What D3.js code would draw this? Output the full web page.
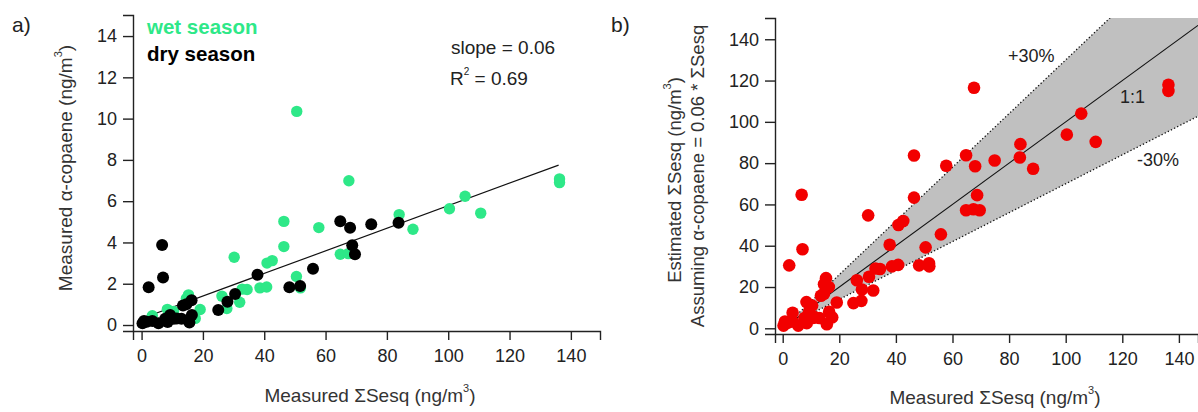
<!DOCTYPE html>
<html>
<head>
<meta charset="utf-8">
<script src="https://cdn.jsdelivr.net/npm/d3@7"></script>
<style>
  body { margin: 0; background: #fff; }
  svg { font-family: "Liberation Sans", Arial, sans-serif; }
  .axis path, .axis line { stroke: #222; stroke-width: 1.4; }
  .axis text { fill: #222; font-size: 18px; }
</style>
</head>
<body>
<script>
// panel a: measured sum of sesquiterpenes vs measured alpha-copaene (ng/m3)
const wetSeason = [[3.5,0.45],[8.4,0.76],[10.4,0.66],[14.6,1.28],[15.3,1.46],[17.5,0.32],[19.1,0.75],
  [26.2,1.4],[27.8,0.8],[30.2,3.28],[32.0,1.1],[32.8,1.74],[34.4,1.72],[38.6,1.8],[40.8,1.84],[40.9,3.0],
  [42.6,3.12],[46.4,5.02],[46.4,3.8],[50.6,10.35],[50.5,2.35],[51.8,1.8],[57.8,4.72],[64.8,3.43],
  [67.4,3.46],[67.6,6.99],[84.0,5.35],[88.5,4.64],[100.4,5.63],[105.5,6.24],[110.6,5.42],[136.3,7.08],[136.3,6.9]];
const drySeason = [[0.3,0.08],[0.8,0.2],[1.7,0.16],[2.3,1.83],[3.5,0.2],[5.5,0.08],[6.7,3.88],[7.0,2.3],
  [7.7,0.3],[8.5,0.15],[9.3,0.48],[10.5,0.3],[11.5,0.32],[13.0,0.3],[13.5,0.95],[14.6,1.0],[15.6,0.12],
  [16.3,1.2],[16.4,0.48],[25.0,0.73],[28.0,1.13],[30.5,1.5],[37.8,2.43],[48.2,1.83],[51.7,1.89],
  [55.9,2.73],[64.8,5.03],[68.0,4.71],[68.7,3.87],[69.6,3.43],[74.9,4.88],[83.8,4.96]];

// panel b: measured sum vs estimated sum (copaene / 0.06)
const estimated = [[3.5,7.5],[8.4,12.7],[10.4,11],[14.6,21.3],[15.3,24.3],[17.5,5.3],[19.1,12.5],
  [26.2,23.3],[27.8,13.3],[30.2,54.7],[32.0,18.3],[32.8,29],[34.4,28.7],[38.6,30],[40.8,30.7],[40.9,50],
  [42.6,52],[46.4,83.7],[46.4,63.3],[50.5,39.2],[51.8,30],[57.8,78.7],[64.8,57.2],[67.4,57.7],
  [67.6,116.5],[84.0,89.2],[88.5,77.3],[100.4,93.8],[105.5,104],[110.6,90.3],[136.3,118],[136.3,115],
  [0.3,1.3],[0.8,3.3],[1.7,2.7],[2.3,30.5],[3.5,3.3],[5.5,1.3],[6.7,64.7],[7.0,38.3],[7.7,5],[8.5,2.5],
  [9.3,8],[10.5,5],[11.5,5.3],[13.0,5],[13.5,15.8],[14.6,16.7],[15.6,2],[16.3,20],[16.4,8],[25.0,12.2],
  [28.0,18.8],[30.5,25],[37.8,40.5],[48.2,30.5],[51.7,31.5],[55.9,45.5],[64.8,83.8],[68.0,78.5],
  [68.7,64.5],[69.6,57.2],[74.9,81.3],[83.8,82.7]];

const xTicks = [0, 20, 40, 60, 80, 100, 120, 140];
const yTicksA = [0, 2, 4, 6, 8, 10, 12, 14];
const yTicksB = [0, 20, 40, 60, 80, 100, 120, 140];
const fitLine = [0.0547, 0.31];      // slope, intercept
const fitRange = [0.5, 136];
const bandFactors = [0.7, 1, 1.3];  // -30%, 1:1, +30%
const bandStart = 5;

const W = 1198, H = 412;
const green = "#2ee888", red = "#f20000";

const svg = d3.select("body").append("svg")
  .attr("width", W).attr("height", H);

// ---------- panel a ----------
const xA = d3.scaleLinear().domain([-2.8, 149.5]).range([133, 600]);
const yA = d3.scaleLinear().domain([-0.29, 15.02]).range([331, 15]);

svg.append("g").attr("class", "axis")
  .attr("transform", "translate(0,331)")
  .call(d3.axisBottom(xA).tickValues(xTicks).tickSizeOuter(0).tickSize(9).tickPadding(9));
svg.append("g").attr("class", "axis")
  .attr("transform", "translate(133,0)")
  .call(d3.axisLeft(yA).tickValues(yTicksA).tickSizeOuter(0).tickSize(10).tickPadding(6));

svg.append("line")
  .attr("x1", xA(fitRange[0])).attr("y1", yA(fitLine[0] * fitRange[0] + fitLine[1]))
  .attr("x2", xA(fitRange[1])).attr("y2", yA(fitLine[0] * fitRange[1] + fitLine[1]))
  .attr("stroke", "#111").attr("stroke-width", 1.2);

svg.append("g").selectAll("circle").data(wetSeason).enter().append("circle")
  .attr("cx", d => xA(d[0])).attr("cy", d => yA(d[1])).attr("r", 5.7).attr("fill", green);
svg.append("g").selectAll("circle").data(drySeason).enter().append("circle")
  .attr("cx", d => xA(d[0])).attr("cy", d => yA(d[1])).attr("r", 6).attr("fill", "#000");

svg.append("text").attr("x", 12).attr("y", 32).style("font-size", "21px").attr("fill", "#222").text("a)");
svg.append("text").attr("x", 147).attr("y", 34).style("font-size", "20.5px").style("font-weight", "bold")
  .attr("fill", green).text("wet season");
svg.append("text").attr("x", 147).attr("y", 61).style("font-size", "20.5px").style("font-weight", "bold")
  .attr("fill", "#000").text("dry season");

svg.append("text").attr("x", 451).attr("y", 54).style("font-size", "19px").attr("fill", "#222").text("slope = 0.06");
const r2 = svg.append("text").attr("x", 450).attr("y", 85).style("font-size", "19px").attr("fill", "#222");
r2.append("tspan").text("R");
r2.append("tspan").attr("dy", -10).style("font-size", "10px").text("2");
r2.append("tspan").attr("dy", 10).text(" = 0.69");

function unitLabel(sel, prefix) {
  sel.append("tspan").text(prefix + " (ng/m");
  sel.append("tspan").attr("dy", -10).style("font-size", "11px").text("3");
  sel.append("tspan").attr("dy", 10).text(")");
}

unitLabel(svg.append("text").attr("x", 370).attr("y", 402).attr("text-anchor", "middle")
  .style("font-size", "19px").attr("fill", "#333"), "Measured \u03A3Sesq");
unitLabel(svg.append("text").attr("transform", "translate(72,168) rotate(-90)").attr("text-anchor", "middle")
  .style("font-size", "19px").attr("fill", "#333"), "Measured \u03B1-copaene");

// ---------- panel b ----------
const xB = d3.scaleLinear().domain([-2.72, 146.75]).range([775, 1198]);
const yB = d3.scaleLinear().domain([-2.76, 150.3]).range([334, 18]);
const xMaxB = xB.domain()[1];

// shaded +-30% band, clipped to plot area
svg.append("clipPath").attr("id", "clipB").append("rect")
  .attr("x", 775).attr("y", 18).attr("width", W - 775).attr("height", 334 - 18);
const gb = svg.append("g").attr("clip-path", "url(#clipB)");
const lo = bandFactors[0], hi = bandFactors[2];
const bandPts = [[bandStart, bandStart * lo], [xMaxB, xMaxB * lo], [xMaxB, xMaxB * hi], [bandStart, bandStart * hi]];
gb.append("path")
  .attr("d", d3.line().x(d => xB(d[0])).y(d => yB(d[1]))(bandPts) + "Z")
  .attr("fill", "#c0c0c0");
bandFactors.forEach((f, i) => {
  gb.append("line")
    .attr("x1", xB(bandStart)).attr("y1", yB(bandStart * f))
    .attr("x2", xB(xMaxB)).attr("y2", yB(xMaxB * f))
    .attr("stroke", "#111").attr("stroke-width", i === 1 ? 1.1 : 1.3)
    .attr("stroke-dasharray", i === 1 ? null : "1.3,2.2");
});

svg.append("g").attr("class", "axis")
  .attr("transform", "translate(0,334)")
  .call(d3.axisBottom(xB).tickValues(xTicks).tickSizeOuter(0).tickSize(9).tickPadding(9));
svg.append("g").attr("class", "axis")
  .attr("transform", "translate(775,0)")
  .call(d3.axisLeft(yB).tickValues(yTicksB).tickSizeOuter(0).tickSize(10).tickPadding(6));

gb.append("g").selectAll("circle").data(estimated).enter().append("circle")
  .attr("cx", d => xB(d[0])).attr("cy", d => yB(d[1])).attr("r", 6.3).attr("fill", red);

svg.append("text").attr("x", 611).attr("y", 32).style("font-size", "21px").attr("fill", "#222").text("b)");
svg.append("text").attr("x", 1008).attr("y", 62).style("font-size", "18px").attr("fill", "#222").text("+30%");
svg.append("text").attr("x", 1120).attr("y", 103).style("font-size", "18px").attr("fill", "#222").text("1:1");
svg.append("text").attr("x", 1137).attr("y", 166).style("font-size", "18px").attr("fill", "#222").text("-30%");

unitLabel(svg.append("text").attr("x", 995).attr("y", 404).attr("text-anchor", "middle")
  .style("font-size", "19px").attr("fill", "#333"), "Measured \u03A3Sesq");
unitLabel(svg.append("text").attr("transform", "translate(681,180) rotate(-90)").attr("text-anchor", "middle")
  .style("font-size", "18.5px").attr("fill", "#333"), "Estimated \u03A3Sesq");
svg.append("text").attr("transform", "translate(704,176) rotate(-90)").attr("text-anchor", "middle")
  .style("font-size", "18.5px").attr("fill", "#333").text("Assuming \u03B1-copaene = 0.06 * \u03A3Sesq");
</script>
</body>
</html>
